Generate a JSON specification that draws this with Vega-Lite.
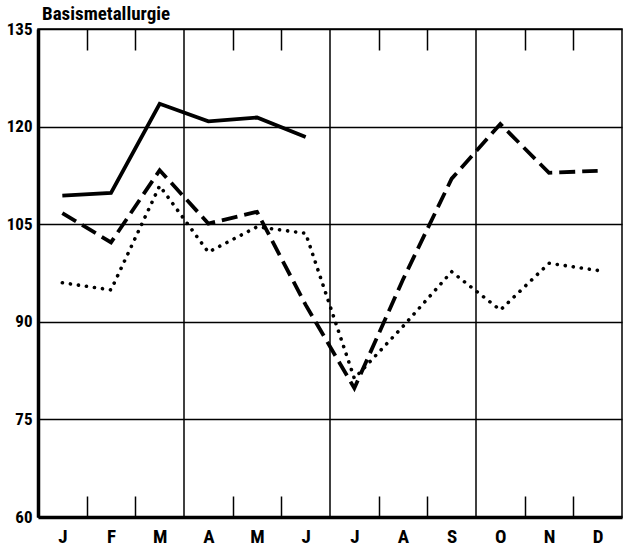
{
  "$schema": "https://vega.github.io/schema/vega-lite/v6.json",
  "width": 584,
  "height": 488,
  "autosize": {"type": "none"},
  "padding": {"left": 38, "top": 29, "right": 1, "bottom": 33},
  "background": "white",
  "config": {"view": {"stroke": "black", "strokeWidth": 1.5}, "font": "Roboto Condensed, DejaVu Sans Condensed, Liberation Sans Narrow, Liberation Sans, sans-serif"},
  "title": {"text": "Basismetallurgie", "anchor": "start", "frame": "group", "fontSize": 19, "fontWeight": "bold", "font": "Roboto Condensed, DejaVu Sans Condensed, Liberation Sans Narrow, Liberation Sans, sans-serif", "baseline": "alphabetic", "offset": -19, "dx": 4, "color": "black"},
  "datasets": {
    "lines": [
      {"month": 1, "series": "solid", "value": 109.4},
      {"month": 2, "series": "solid", "value": 109.8},
      {"month": 3, "series": "solid", "value": 123.5},
      {"month": 4, "series": "solid", "value": 120.8},
      {"month": 5, "series": "solid", "value": 121.4},
      {"month": 6, "series": "solid", "value": 118.4},
      {"month": 1, "series": "dashed", "value": 106.7},
      {"month": 2, "series": "dashed", "value": 102.2},
      {"month": 3, "series": "dashed", "value": 113.3},
      {"month": 4, "series": "dashed", "value": 105.1},
      {"month": 5, "series": "dashed", "value": 106.9},
      {"month": 6, "series": "dashed", "value": 92.6},
      {"month": 7, "series": "dashed", "value": 79.8},
      {"month": 8, "series": "dashed", "value": 96.5},
      {"month": 9, "series": "dashed", "value": 112.0},
      {"month": 10, "series": "dashed", "value": 120.4},
      {"month": 11, "series": "dashed", "value": 112.9},
      {"month": 12, "series": "dashed", "value": 113.2},
      {"month": 1, "series": "dotted", "value": 96.0},
      {"month": 2, "series": "dotted", "value": 94.9},
      {"month": 3, "series": "dotted", "value": 110.9},
      {"month": 4, "series": "dotted", "value": 100.7},
      {"month": 5, "series": "dotted", "value": 104.6},
      {"month": 6, "series": "dotted", "value": 103.6},
      {"month": 7, "series": "dotted", "value": 81.3},
      {"month": 8, "series": "dotted", "value": 89.3},
      {"month": 9, "series": "dotted", "value": 97.7},
      {"month": 10, "series": "dotted", "value": 91.8},
      {"month": 11, "series": "dotted", "value": 99.0},
      {"month": 12, "series": "dotted", "value": 97.9}
    ],
    "quarters": [{"q": 3.5}, {"q": 6.5}, {"q": 9.5}]
  },
  "resolve": {"axis": {"x": "independent"}},
  "layer": [
    {
      "data": {"name": "quarters"},
      "mark": {"type": "rule", "color": "black", "strokeWidth": 1.5},
      "encoding": {
        "x": {
          "field": "q", "type": "quantitative",
          "scale": {"domain": [0.5, 12.5], "nice": false, "zero": false},
          "axis": {"orient": "top", "values": [1.5, 2.5, 4.5, 5.5, 7.5, 8.5, 10.5, 11.5], "tickSize": -21, "tickWidth": 1.5, "tickColor": "black", "labels": false, "domain": false, "grid": false, "title": null}
        }
      }
    },
    {
      "data": {"name": "lines"},
      "transform": [{"filter": "datum.series == 'dotted'"}],
      "mark": {"type": "line", "color": "black", "strokeWidth": 3.6, "strokeCap": "round", "strokeDash": [0.1, 8]},
      "encoding": {
        "x": {
          "field": "month", "type": "quantitative",
          "scale": {"domain": [0.5, 12.5], "nice": false, "zero": false},
          "axis": {
            "orient": "bottom",
            "values": [1, 1.5, 2, 2.5, 3, 4, 4.5, 5, 5.5, 6, 7, 7.5, 8, 8.5, 9, 10, 10.5, 11, 11.5, 12],
            "labelExpr": "datum.value % 1 == 0 ? substring('JFMAMJJASOND', datum.value - 1, datum.value) : ''",
            "tickSize": -21, "tickWidth": 1.5,
            "tickColor": {"condition": {"test": "datum.value % 1 != 0", "value": "black"}, "value": "rgba(0,0,0,0)"},
            "domain": true, "domainWidth": 3.5, "domainColor": "black", "grid": false,
            "labelFontSize": 19, "labelFontWeight": "bold", "labelColor": "black",
            "labelPadding": 31, "labelFlush": false, "labelOverlap": false, "title": null
          }
        },
        "y": {
          "field": "value", "type": "quantitative",
          "scale": {"domain": [60, 135], "nice": false, "zero": false},
          "axis": {"values": [60, 75, 90, 105, 120, 135], "grid": true, "gridColor": "black", "gridWidth": 1.3, "ticks": false, "domainWidth": 3.5, "domainColor": "black", "labelFontSize": 17, "labelFontWeight": "bold", "labelColor": "black", "labelPadding": 6, "title": null}
        }
      }
    },
    {
      "data": {"name": "lines"},
      "transform": [{"filter": "datum.series == 'dashed'"}],
      "mark": {"type": "line", "color": "black", "strokeWidth": 3.8, "strokeCap": "butt", "strokeDash": [16, 7]},
      "encoding": {
        "x": {"field": "month", "type": "quantitative", "scale": {"domain": [0.5, 12.5], "nice": false, "zero": false}, "axis": null},
        "y": {"field": "value", "type": "quantitative", "scale": {"domain": [60, 135], "nice": false, "zero": false}}
      }
    },
    {
      "data": {"name": "lines"},
      "transform": [{"filter": "datum.series == 'solid'"}],
      "mark": {"type": "line", "color": "black", "strokeWidth": 3.8},
      "encoding": {
        "x": {"field": "month", "type": "quantitative", "scale": {"domain": [0.5, 12.5], "nice": false, "zero": false}, "axis": null},
        "y": {"field": "value", "type": "quantitative", "scale": {"domain": [60, 135], "nice": false, "zero": false}}
      }
    }
  ]
}
